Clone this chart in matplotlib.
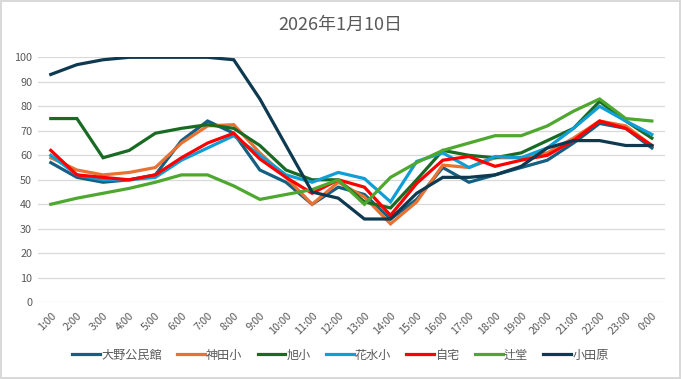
import numpy as np
import matplotlib.pyplot as plt
import matplotlib as mpl

mpl.use('Agg')
plt.rcParams['font.family'] = ['Noto Sans CJK JP', 'DejaVu Sans']

# hourly readings on 2026-01-10
hours = ['1:00', '2:00', '3:00', '4:00', '5:00', '6:00', '7:00', '8:00',
         '9:00', '10:00', '11:00', '12:00', '13:00', '14:00', '15:00', '16:00',
         '17:00', '18:00', '19:00', '20:00', '21:00', '22:00', '23:00', '0:00']

ohno = [57, 51, 49, 50, 52, 66, 74, 69, 54, 49, 40, 47, 44, 34, 42, 55,
        49, 52, 55, 58, 65, 73, 71, 63]
kanda = [59, 54, 52, 53, 55, 65, 72, 72.5, 61, 51, 40, 49, 43, 32, 41, 56,
         55, 59, 59, 61, 67, 74, 72, 64]
asahi = [75, 75, 59, 62, 69, 71, 72.5, 71, 64, 54, 50, 50, 41, 38.5, 50, 62,
         60, 59, 61, 66, 71, 82, 74, 67]
hanamizu = [60, 52, 50, 50, 51, 58, 63, 68, 60, 52, 49, 53, 50.5, 41, 57.5, 61,
            55, 59.5, 59, 63, 71, 80, 74, 68.5]
home = [62, 52, 51, 50, 52, 59, 65, 69, 58.5, 51, 44.5, 50, 47, 35.5, 48.5, 58,
        59.5, 55.5, 58, 60, 66, 74, 71, 64]
tsujido = [40, 42.5, 44.5, 46.5, 49, 52, 52, 47.5, 42, 44, 46, 50, 40, 51, 57, 62,
           65, 68, 68, 72, 78, 83, 75, 74]
odawara = [93, 97, 99, 100, 100, 100, 100, 99, 83, 64, 45, 42.5, 34, 34, 44.5, 51,
           51, 52, 55.5, 63, 66, 66, 64, 64]

series = [('大野公民館', ohno, '#156082'),
          ('神田小', kanda, '#E97132'),
          ('旭小', asahi, '#196B24'),
          ('花水小', hanamizu, '#0F9ED5'),
          ('自宅', home, '#FF0000'),
          ('辻堂', tsujido, '#4EA72E'),
          ('小田原', odawara, '#0D3A50')]

fig = plt.figure(figsize=(6.81, 3.79), dpi=100)
fig.patch.set_edgecolor('#D9D9D9')
fig.patch.set_linewidth(1.5)
ax = fig.add_axes([0.0554, 0.2024, 0.921, 0.6464])

x = np.arange(len(hours))
for name, vals, col in series:
    ax.plot(x, vals, color=col, lw=2.3, label=name, solid_joinstyle='miter')

ax.set_xlim(-0.5, len(hours) - 0.5)
ax.set_ylim(0, 100)
ax.set_yticks(np.arange(0, 101, 10))
ax.set_xticks(x)
ax.set_xticklabels(hours, rotation=45, ha='right', rotation_mode='anchor')
ax.grid(axis='y', color='#D9D9D9', lw=0.9)
ax.set_axisbelow(True)
for s in ax.spines.values():
    s.set_visible(False)
ax.tick_params(length=0, labelsize=7.8, colors='#595959', pad=4)
ax.tick_params(axis='x', pad=6)

fig.text(0.5, 0.935, '2026年1月10日', ha='center', va='center',
         fontsize=13, color='#595959')

fig.legend(loc='center', bbox_to_anchor=(0.5, 0.063), ncol=7, frameon=False,
           fontsize=8.7, handlelength=2.3, handletextpad=0.1, columnspacing=1.25,
           labelcolor='#595959')

plt.savefig('out.png', dpi=100)
